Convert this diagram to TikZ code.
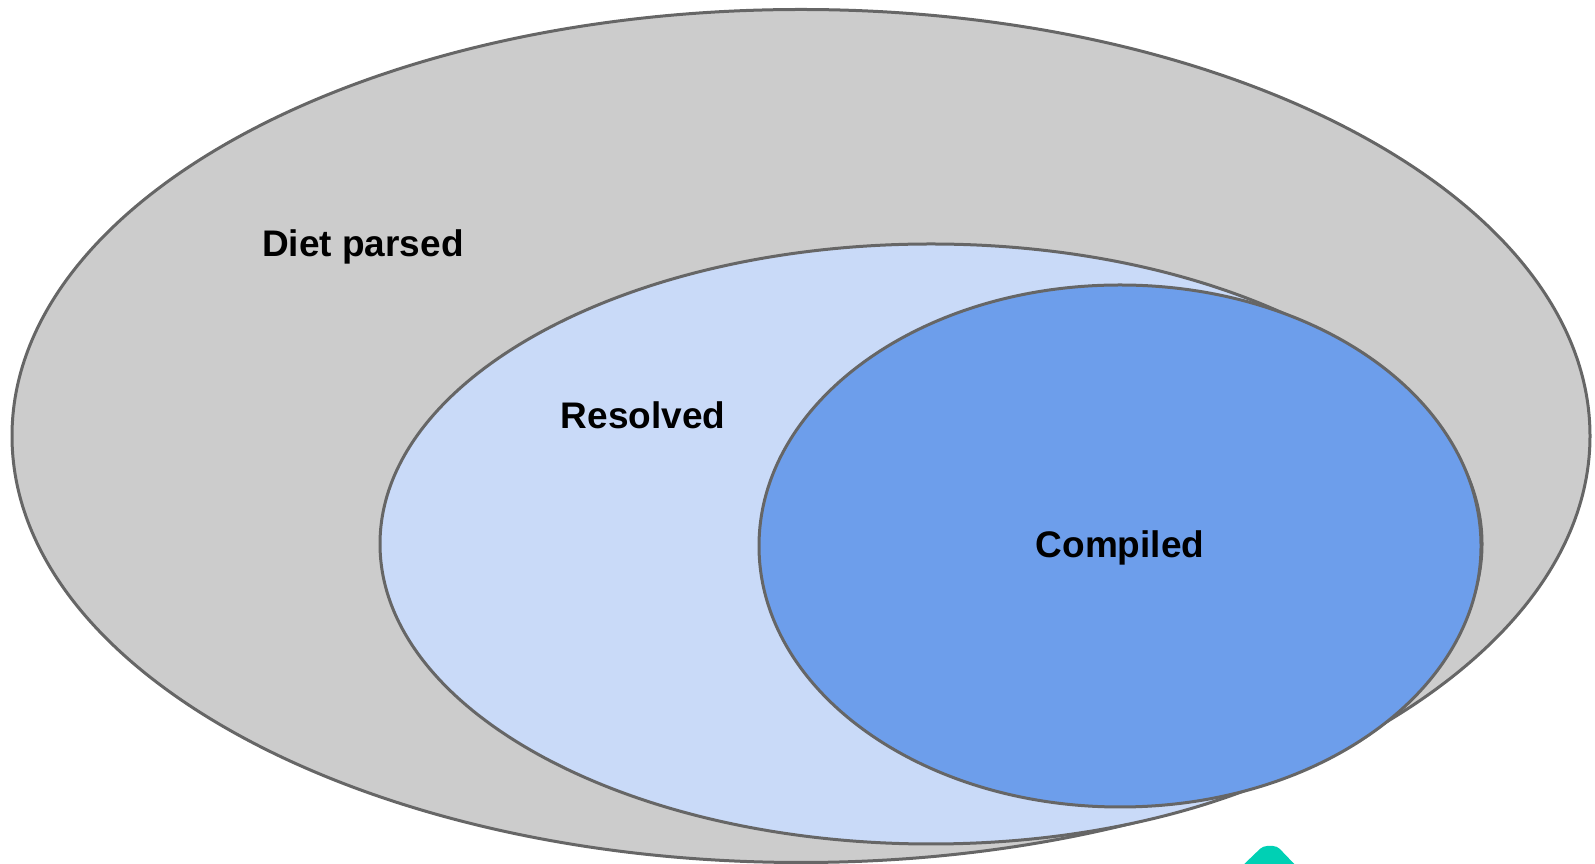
\documentclass[tikz,border=0pt]{standalone}
\usepackage{fontspec}
\setmainfont{Liberation Sans}
\usetikzlibrary{shapes.geometric}
\definecolor{setline}{HTML}{666666}
\definecolor{parsedfill}{HTML}{CCCCCC}
\definecolor{resolvedfill}{HTML}{C9DAF8}
\definecolor{compiledfill}{HTML}{6D9EEB}
\definecolor{tealmark}{RGB}{0,208,180}
\tikzset{
  setblob/.style={ellipse, draw=setline, line width=3pt, inner sep=0pt},
  setlabel/.style={font=\fontsize{37}{41}\selectfont\bfseries, anchor=base, inner sep=0pt}
}
\begin{document}
\begin{tikzpicture}[x=1pt,y=1pt]
\useasboundingbox (0,0) rectangle (1595,864);
\clip (0,0) rectangle (1595,864);
\node [setblob, fill=parsedfill, minimum width=1578pt, minimum height=853pt] (parsed) at (801,428) {};
\node [setblob, fill=resolvedfill, minimum width=1102pt, minimum height=600pt] (resolved) at (931,320) {};
\node [setblob, fill=compiledfill, minimum width=722pt, minimum height=522pt] (compiled) at (1120,318) {};
\node [setlabel] (parsedtext) at (363,607) {Diet parsed};
\node [setlabel] (resolvedtext) at (643,435) {Resolved};
\node [setlabel] (compiledtext) at (1120,306) {Compiled};
\fill [tealmark, rounded corners=4pt] (1263,18) -- (1277,18) -- (1300,-6) -- (1238,-6) -- cycle;
\end{tikzpicture}
\end{document}
